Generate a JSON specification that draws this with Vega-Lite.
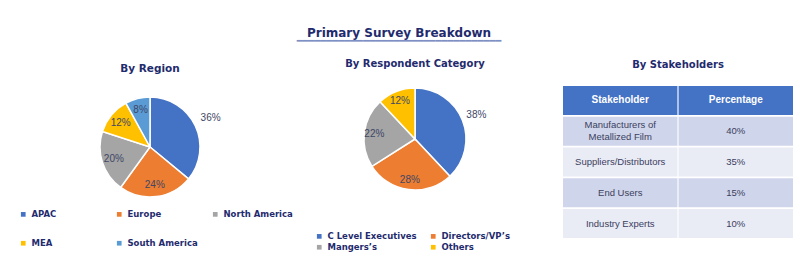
{
  "$schema": "https://vega.github.io/schema/vega-lite/v6.json",
  "background": "white",
  "padding": {"left": 5, "top": 27, "right": 5, "bottom": 5},
  "title": {
    "text": "Primary Survey Breakdown",
    "subtitle": "━━━━━━━━━━━━━━━━━━━━━━━━━━━━━━━━━━",
    "font": "DejaVu Sans",
    "fontSize": 12,
    "fontWeight": "bold",
    "color": "#1f2b6e",
    "subtitleFont": "DejaVu Sans",
    "subtitleFontSize": 10,
    "subtitleColor": "#7d8fc4",
    "subtitlePadding": -4,
    "anchor": "middle",
    "offset": 12
  },
  "datasets": {
    "region": [
      {"region": "APAC", "value": 36, "label": "36%"},
      {"region": "Europe", "value": 24, "label": "24%"},
      {"region": "North America", "value": 20, "label": "20%"},
      {"region": "MEA", "value": 12, "label": "12%"},
      {"region": "South America", "value": 8, "label": "8%"}
    ],
    "respondent": [
      {"category": "C Level Executives", "value": 38, "label": "38%"},
      {"category": "Directors/VP’s", "value": 28, "label": "28%"},
      {"category": "Mangers’s", "value": 22, "label": "22%"},
      {"category": "Others", "value": 12, "label": "12%"}
    ],
    "stake": [
      {"row": 0, "col": "Stakeholder", "text": "Stakeholder"},
      {"row": 0, "col": "Percentage", "text": "Percentage"},
      {"row": 1, "col": "Stakeholder", "text": "Manufacturers of\nMetallized Film"},
      {"row": 1, "col": "Percentage", "text": "40%"},
      {"row": 2, "col": "Stakeholder", "text": "Suppliers/Distributors"},
      {"row": 2, "col": "Percentage", "text": "35%"},
      {"row": 3, "col": "Stakeholder", "text": "End Users"},
      {"row": 3, "col": "Percentage", "text": "15%"},
      {"row": 4, "col": "Stakeholder", "text": "Industry Experts"},
      {"row": 4, "col": "Percentage", "text": "10%"}
    ]
  },
  "spacing": 33,
  "resolve": {"scale": {"color": "independent", "theta": "independent", "radius": "independent"}, "legend": {"color": "independent"}},
  "hconcat": [
    {
      "spacing": 5,
      "resolve": {"scale": {"color": "independent", "theta": "independent", "radius": "independent"}, "legend": {"color": "independent"}},
      "hconcat": [
        {
          "width": 290,
          "height": 122,
          "title": {"text": "By Region", "font": "DejaVu Sans", "fontSize": 10.5, "fontWeight": "bold", "color": "#1f2b6e", "offset": 12},
          "data": {"name": "region"},
          "encoding": {
            "theta": {"field": "value", "type": "quantitative", "stack": true},
            "order": {"field": "value", "type": "quantitative", "sort": "descending"},
            "color": {
              "field": "region",
              "type": "nominal",
              "title": null,
              "scale": {
                "domain": ["APAC", "Europe", "North America", "MEA", "South America"],
                "range": ["#4472c4", "#ed7d31", "#a5a5a5", "#ffc000", "#5b9bd5"]
              },
              "legend": {
                "orient": "none",
                "legendX": 14,
                "legendY": 124,
                "direction": "horizontal",
                "columns": 3,
                "gridAlign": "all",
                "columnPadding": 13,
                "rowPadding": 20,
                "symbolType": "square",
                "symbolSize": 22,
                "symbolStrokeWidth": 0,
                "labelFont": "DejaVu Sans",
                "labelFontSize": 8.5,
                "labelFontWeight": "bold",
                "labelColor": "#1f2b6e"
              }
            }
          },
          "layer": [
            {"mark": {"type": "arc", "outerRadius": 50, "stroke": "white", "strokeWidth": 1.5}},
            {
              "mark": {"type": "text", "font": "Liberation Sans", "fontSize": 10},
              "encoding": {
                "text": {"field": "label"},
                "color": {"value": "#3e4766"},
                "radius": {"field": "value", "type": "quantitative", "scale": {"type": "linear", "domain": [29, 30], "range": [38, 67], "clamp": true, "zero": false}}
              }
            }
          ]
        },
        {
          "width": 230,
          "height": 106,
          "title": {"text": "By Respondent Category", "font": "DejaVu Sans", "fontSize": 10, "fontWeight": "bold", "color": "#1f2b6e", "offset": 16},
          "data": {"name": "respondent"},
          "encoding": {
            "theta": {"field": "value", "type": "quantitative", "stack": true},
            "order": {"field": "value", "type": "quantitative", "sort": "descending"},
            "color": {
              "field": "category",
              "type": "nominal",
              "title": null,
              "scale": {
                "domain": ["C Level Executives", "Directors/VP’s", "Mangers’s", "Others"],
                "range": ["#4472c4", "#ed7d31", "#a5a5a5", "#ffc000"]
              },
              "legend": {
                "orient": "none",
                "legendX": 15,
                "legendY": 146,
                "direction": "horizontal",
                "columns": 2,
                "gridAlign": "all",
                "columnPadding": 12,
                "rowPadding": 2,
                "symbolType": "square",
                "symbolSize": 22,
                "symbolStrokeWidth": 0,
                "labelFont": "DejaVu Sans",
                "labelFontSize": 8.5,
                "labelFontWeight": "bold",
                "labelColor": "#1f2b6e"
              }
            }
          },
          "layer": [
            {"mark": {"type": "arc", "outerRadius": 51, "stroke": "white", "strokeWidth": 1.5}},
            {
              "mark": {"type": "text", "font": "Liberation Sans", "fontSize": 10},
              "encoding": {
                "text": {"field": "label"},
                "color": {"value": "#3e4766"},
                "radius": {"field": "value", "type": "quantitative", "scale": {"type": "linear", "domain": [29, 30], "range": [41, 66], "clamp": true, "zero": false}}
              }
            }
          ]
        }
      ]
    },
    {
      "width": 230,
      "height": 152,
      "title": {"text": "By Stakeholders", "font": "DejaVu Sans", "fontSize": 10, "fontWeight": "bold", "color": "#1f2b6e", "offset": 16},
      "data": {"name": "stake"},
      "encoding": {
        "x": {"field": "col", "type": "nominal", "sort": ["Stakeholder", "Percentage"], "axis": null, "scale": {"paddingInner": 0.01, "paddingOuter": 0}},
        "y": {"field": "row", "type": "ordinal", "axis": null, "scale": {"paddingInner": 0.06, "paddingOuter": 0}}
      },
      "layer": [
        {
          "mark": {"type": "rect"},
          "encoding": {
            "color": {"field": "row", "type": "ordinal", "legend": null, "scale": {"domain": [0, 1, 2, 3, 4], "range": ["#4472c4", "#cfd5ea", "#e9ebf5", "#cfd5ea", "#e9ebf5"]}}
          }
        },
        {
          "transform": [{"filter": "datum.row == 0"}],
          "mark": {"type": "text", "font": "Liberation Sans", "fontSize": 10, "fontWeight": "bold", "color": "white"},
          "encoding": {"text": {"field": "text"}}
        },
        {
          "transform": [{"filter": "datum.row == 1 && datum.col == 'Stakeholder'"}],
          "mark": {"type": "text", "font": "Liberation Sans", "fontSize": 9.5, "color": "#3b4060", "lineBreak": "\n", "lineHeight": 12, "dy": -6},
          "encoding": {"text": {"field": "text"}}
        },
        {
          "transform": [{"filter": "datum.row > 1 || (datum.row == 1 && datum.col == 'Percentage')"}],
          "mark": {"type": "text", "font": "Liberation Sans", "fontSize": 9.5, "color": "#3b4060"},
          "encoding": {"text": {"field": "text"}}
        }
      ]
    }
  ],
  "config": {
    "view": {"stroke": null},
    "legend": {"padding": 0}
  }
}
